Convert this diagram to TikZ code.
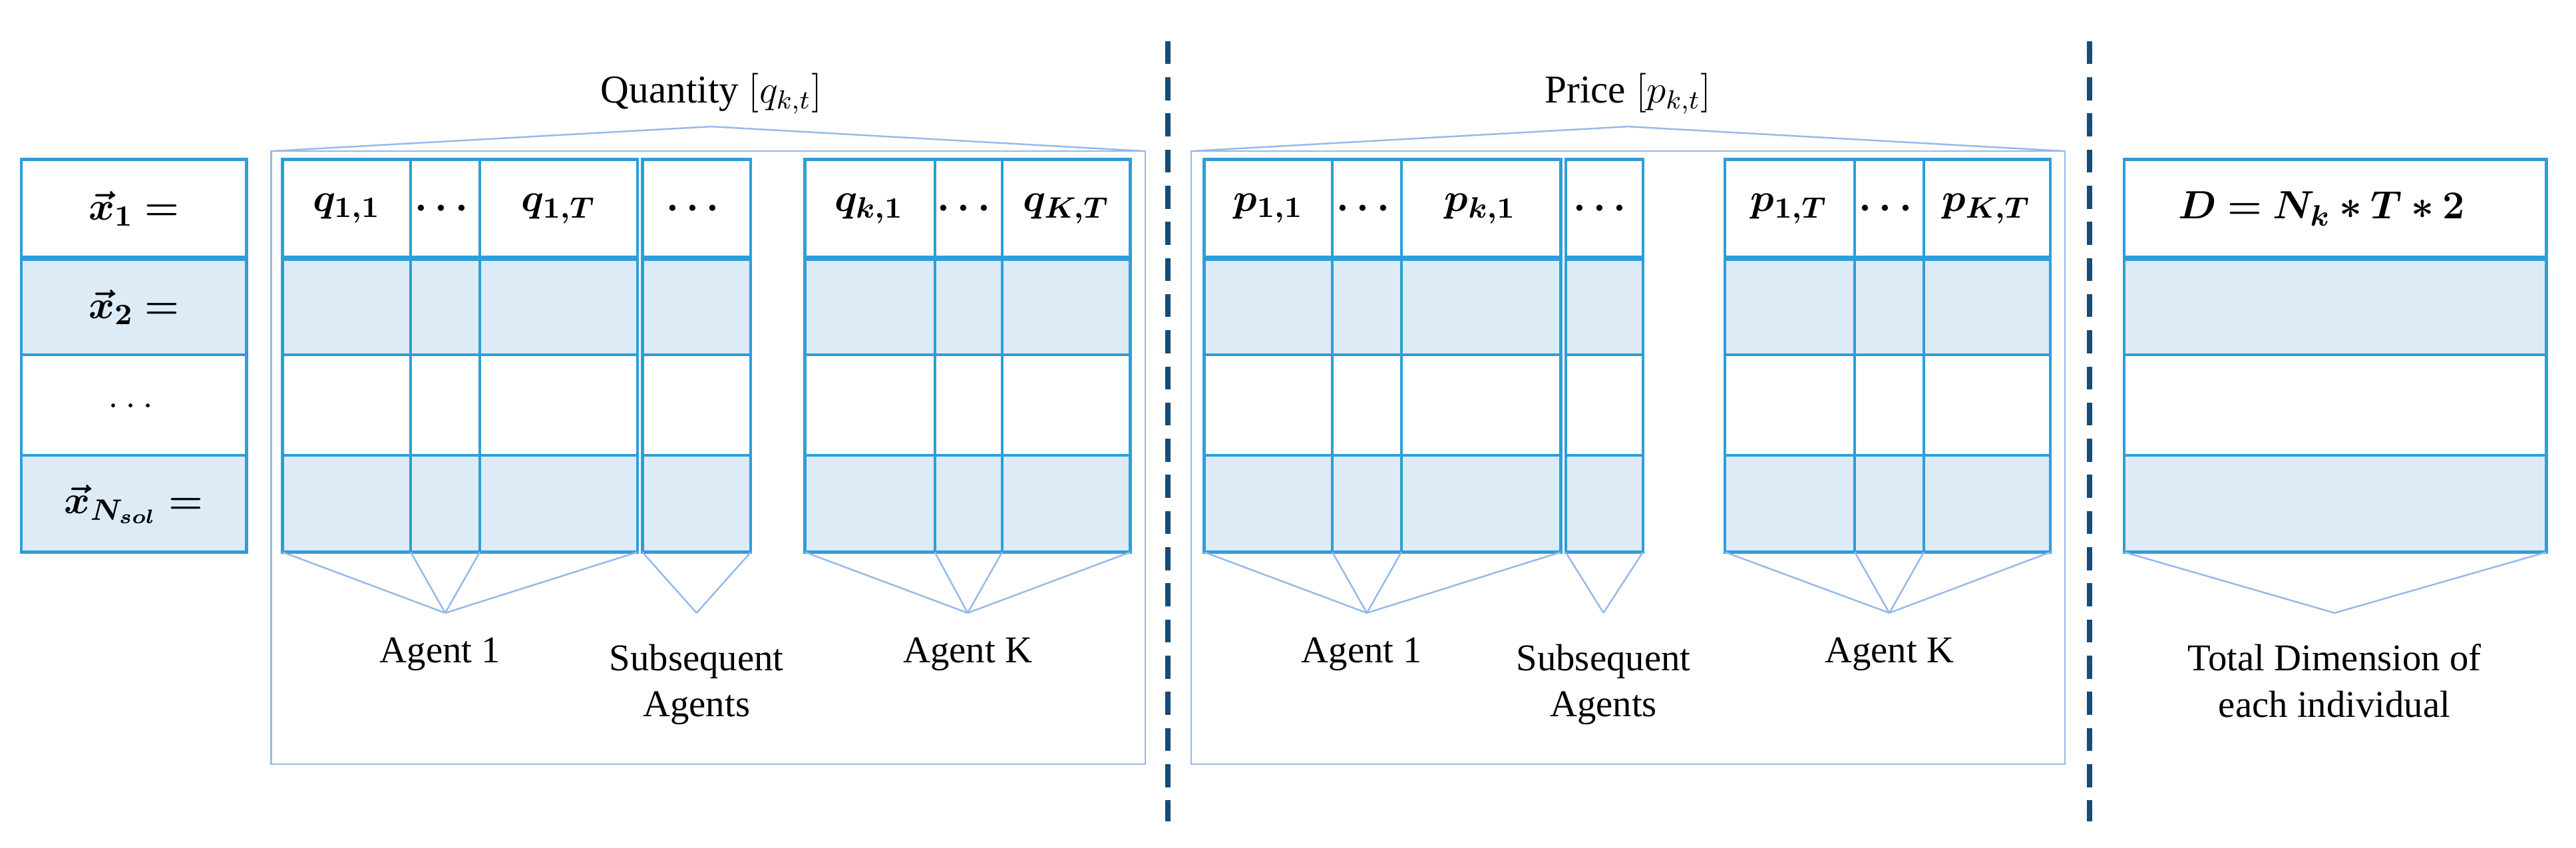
\documentclass[tikz,border=0pt]{standalone}
\usepackage{amsmath,bm}
\usepackage{fontspec}
\setmainfont{Liberation Serif}
\definecolor{cb}{RGB}{46,158,218}
\definecolor{lb}{RGB}{221,235,247}
\definecolor{ob}{RGB}{150,185,232}
\definecolor{db}{RGB}{24,75,118}
\newcommand\mytab[2]{%
 \fill[lb] (#1,157) rectangle (#2,216);
 \fill[lb] (#1,277) rectangle (#2,336);
 \draw[cellb] (#1,97) rectangle (#2,336);
 \draw[cellb] (#1,216) -- (#2,216) (#1,277) -- (#2,277);
 \draw[cellb,line width=1.6pt] (#1,157) -- (#2,157);}
\newcommand\mycol[1]{\draw[cellb] (#1,97) -- (#1,336);}
\begin{document}
\begin{tikzpicture}[x=0.5pt,y=-0.5pt,
 cellb/.style={draw=cb,line width=0.9pt},
 outerb/.style={draw=ob,line width=0.5pt},
 fan/.style={draw=ob,line width=0.5pt},
 hd/.style={font=\fontsize{12.5}{14}\selectfont},
 lbl/.style={font=\fontsize{11.5}{14}\selectfont,align=center},
 sep/.style={draw=db,line width=1.6pt,dash pattern=on 7pt off 4pt}]
\useasboundingbox (0,0) rectangle (1568,516);
% left table
\mytab{13}{150}
\node[hd] (x1) at (81.5,127) {$\bm{\vec{x}_1 =}$};
\node[hd] (x2) at (81.5,187) {$\bm{\vec{x}_2 =}$};
\node[hd] (x3) at (81.5,247) {$\dots$};
\node[hd] (x4) at (81.5,307) {$\bm{\vec{x}_{N_{sol}} =}$};
% quantity
\draw[outerb] (165,465) -- (165,92) -- (697,92) -- (697,465) -- cycle;
\coordinate (qt) at (433,77);
\draw[fan] (165,92) -- (qt) -- (697,92);
\node[lbl,font=\fontsize{12}{14}\selectfont] (qtitle) at (433,57) {Quantity $[q_{k,t}]$};
\mytab{172}{388}\mycol{250}\mycol{292}
\mytab{391}{457}
\mytab{490}{688}\mycol{569}\mycol{610}
\node[hd] (q11) at (211,127) {$\bm{q_{1,1}}$};
\node[hd] (q12) at (271,127) {$\bm{\cdots}$};
\node[hd] (q13) at (340,127) {$\bm{q_{1,T}}$};
\node[hd] (qs) at (424,127) {$\bm{\cdots}$};
\node[hd] (qk1) at (529,127) {$\bm{q_{k,1}}$};
\node[hd] (qk2) at (589,127) {$\bm{\cdots}$};
\node[hd] (qk3) at (649,127) {$\bm{q_{K,T}}$};
\coordinate (fa1) at (271,373); \coordinate (fa2) at (424,373); \coordinate (fa3) at (589,373);
\foreach \x in {172,250,292,388} \draw[fan] (\x,336) -- (fa1);
\foreach \x in {391,457} \draw[fan] (\x,336) -- (fa2);
\foreach \x in {490,569,610,688} \draw[fan] (\x,336) -- (fa3);
\node[lbl] (a1) at (268,398) {Agent 1};
\node[lbl,anchor=north] (a2) at (424,385) {Subsequent\\Agents};
\node[lbl] (a3) at (589,398) {Agent K};
% separators
\coordinate (s1a) at (711,25); \coordinate (s1b) at (711,500);
\draw[sep] (s1a) -- (s1b);
\coordinate (s2a) at (1272,25); \coordinate (s2b) at (1272,500);
\draw[sep] (s2a) -- (s2b);
% price
\draw[outerb] (725,465) -- (725,92) -- (1257,92) -- (1257,465) -- cycle;
\coordinate (pt) at (991,77);
\draw[fan] (725,92) -- (pt) -- (1257,92);
\node[lbl,font=\fontsize{12}{14}\selectfont] (ptitle) at (991,57) {Price $[p_{k,t}]$};
\mytab{733}{950}\mycol{811}\mycol{853}
\mytab{953}{1000}
\mytab{1050}{1248}\mycol{1129}\mycol{1171}
\node[hd] (p11) at (772,127) {$\bm{p_{1,1}}$};
\node[hd] (p12) at (832,127) {$\bm{\cdots}$};
\node[hd] (p13) at (901,127) {$\bm{p_{k,1}}$};
\node[hd] (ps) at (976,127) {$\bm{\cdots}$};
\node[hd] (pk1) at (1089,127) {$\bm{p_{1,T}}$};
\node[hd] (pk2) at (1150,127) {$\bm{\cdots}$};
\node[hd] (pk3) at (1209,127) {$\bm{p_{K,T}}$};
\coordinate (fb1) at (832,373); \coordinate (fb2) at (976,373); \coordinate (fb3) at (1150,373);
\foreach \x in {733,811,853,950} \draw[fan] (\x,336) -- (fb1);
\foreach \x in {953,1000} \draw[fan] (\x,336) -- (fb2);
\foreach \x in {1050,1129,1171,1248} \draw[fan] (\x,336) -- (fb3);
\node[lbl] (b1) at (829,398) {Agent 1};
\node[lbl,anchor=north] (b2) at (976,385) {Subsequent\\Agents};
\node[lbl] (b3) at (1150,398) {Agent K};
% total
\mytab{1293}{1550}
\node[hd] (dd) at (1413,127) {$\bm{D = N_k * T * 2}$};
\coordinate (fc) at (1421,373);
\draw[fan] (1293,336) -- (fc) -- (1550,336);
\node[lbl,anchor=north] (tot) at (1421,385) {Total Dimension of\\each individual};
\end{tikzpicture}
\end{document}
